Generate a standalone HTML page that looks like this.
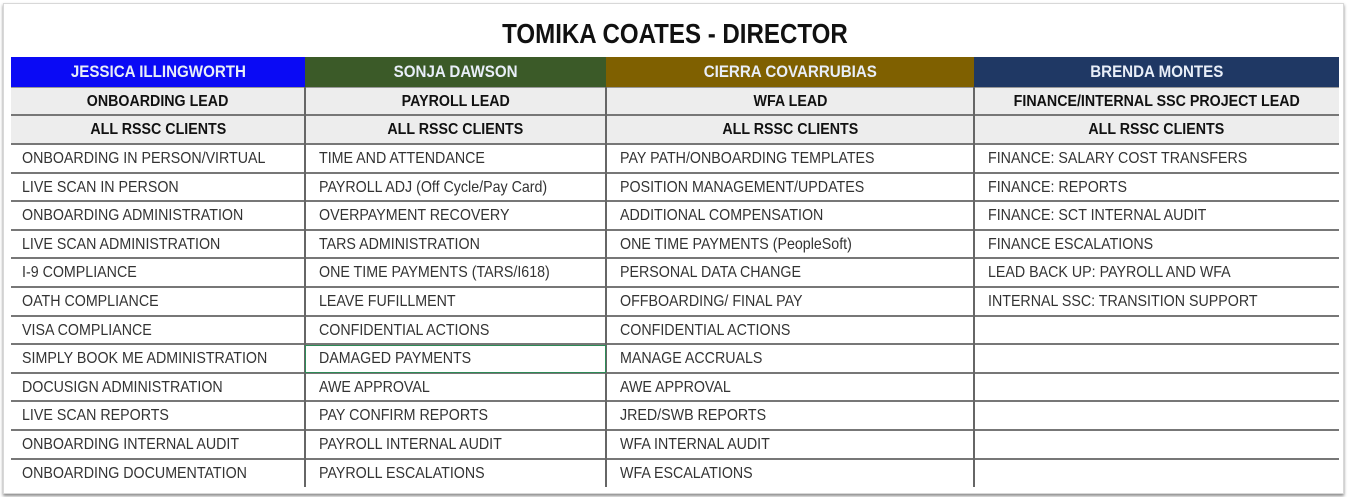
<!DOCTYPE html>
<html><head><style>
body{margin:0;width:1349px;height:497px;background:#fff;position:relative;overflow:hidden;font-family:"Liberation Sans",sans-serif;}
#frame{position:absolute;left:3px;top:3px;width:1339px;height:489px;border:1px solid #d8d8d8;box-shadow:0 2px 3px #888;background:#fff;}
#title{position:absolute;left:0;width:1349px;top:18px;text-align:center;font-weight:bold;font-size:28px;color:#111;}
#title span{display:inline-block;transform:scaleX(0.86);}
.c{position:absolute;box-sizing:border-box;white-space:nowrap;overflow:hidden;}
.c span{display:inline-block;transform:scaleX(0.89);}
.h{color:#e8eef8;font-weight:bold;font-size:17px;text-align:center;line-height:30px;}
.g{background:#ededed;font-weight:bold;font-size:16px;text-align:center;color:#111;border-bottom:2px solid #777;}
.d{font-size:16px;color:#333;padding-left:11px;border-bottom:2px solid #777;}
.d span{transform-origin:left center;}
.v{position:absolute;width:2px;background:#666;}
</style></head><body>
<div id="frame"></div>
<div id="title"><span>TOMIKA COATES - DIRECTOR</span></div>
<div id="t"></div>
<script>
var X=[11,305,606,974,1339];
var hc=["#0a0af5","#3b5a28","#7f6000","#1f3864"];
var names=["JESSICA ILLINGWORTH","SONJA DAWSON","CIERRA COVARRUBIAS","BRENDA MONTES"];
var roles=["ONBOARDING LEAD","PAYROLL LEAD","WFA LEAD","FINANCE/INTERNAL SSC PROJECT LEAD"];
var data=[
["ONBOARDING IN PERSON/VIRTUAL","LIVE SCAN IN PERSON","ONBOARDING ADMINISTRATION","LIVE SCAN ADMINISTRATION","I-9 COMPLIANCE","OATH COMPLIANCE","VISA COMPLIANCE","SIMPLY BOOK ME ADMINISTRATION","DOCUSIGN ADMINISTRATION","LIVE SCAN REPORTS","ONBOARDING INTERNAL AUDIT","ONBOARDING DOCUMENTATION"],
["TIME AND ATTENDANCE","PAYROLL ADJ (Off Cycle/Pay Card)","OVERPAYMENT RECOVERY","TARS ADMINISTRATION","ONE TIME PAYMENTS (TARS/I618)","LEAVE FUFILLMENT","CONFIDENTIAL ACTIONS","DAMAGED PAYMENTS","AWE APPROVAL","PAY CONFIRM REPORTS","PAYROLL INTERNAL AUDIT","PAYROLL ESCALATIONS"],
["PAY PATH/ONBOARDING TEMPLATES","POSITION MANAGEMENT/UPDATES","ADDITIONAL COMPENSATION","ONE TIME PAYMENTS (PeopleSoft)","PERSONAL DATA CHANGE","OFFBOARDING/ FINAL PAY","CONFIDENTIAL ACTIONS","MANAGE ACCRUALS","AWE APPROVAL","JRED/SWB REPORTS","WFA INTERNAL AUDIT","WFA ESCALATIONS"],
["FINANCE: SALARY COST TRANSFERS","FINANCE: REPORTS","FINANCE: SCT INTERNAL AUDIT","FINANCE ESCALATIONS","LEAD BACK UP: PAYROLL AND WFA","INTERNAL SSC: TRANSITION SUPPORT","","","","","",""]];
var h="";
for(var i=0;i<4;i++){
 var l=X[i],w=X[i+1]-X[i];
 var pl=i==0?11:14;
 h+='<div class="c h" style="left:'+l+'px;top:57px;width:'+w+'px;height:30px;background:'+hc[i]+'"><span>'+names[i]+'</span></div>';
 h+='<div class="c g" style="left:'+l+'px;top:87px;width:'+w+'px;height:29px;line-height:28px;border-top:1px solid #999"><span>'+roles[i]+'</span></div>';
 h+='<div class="c g" style="left:'+l+'px;top:116px;width:'+w+'px;height:29px;line-height:28px"><span>ALL RSSC CLIENTS</span></div>';
 for(var r=0;r<12;r++){
  var t=145+r*28.6;
  var bb=r==11?'border-bottom:none;':'';
  h+='<div class="c d" style="'+bb+'padding-left:'+pl+'px;left:'+l+'px;top:'+t+'px;width:'+w+'px;height:28.6px;line-height:27px"><span>'+data[i][r]+'</span></div>';
 }
}
for(var i=1;i<4;i++) h+='<div class="v" style="left:'+(X[i]-1)+'px;top:87px;height:400px"></div>';
h+='<div style="position:absolute;left:305px;top:345px;width:301px;height:28px;border:1px solid #2e8b57;box-sizing:border-box"></div>';
document.getElementById("t").innerHTML=h;
</script>
</body></html>
